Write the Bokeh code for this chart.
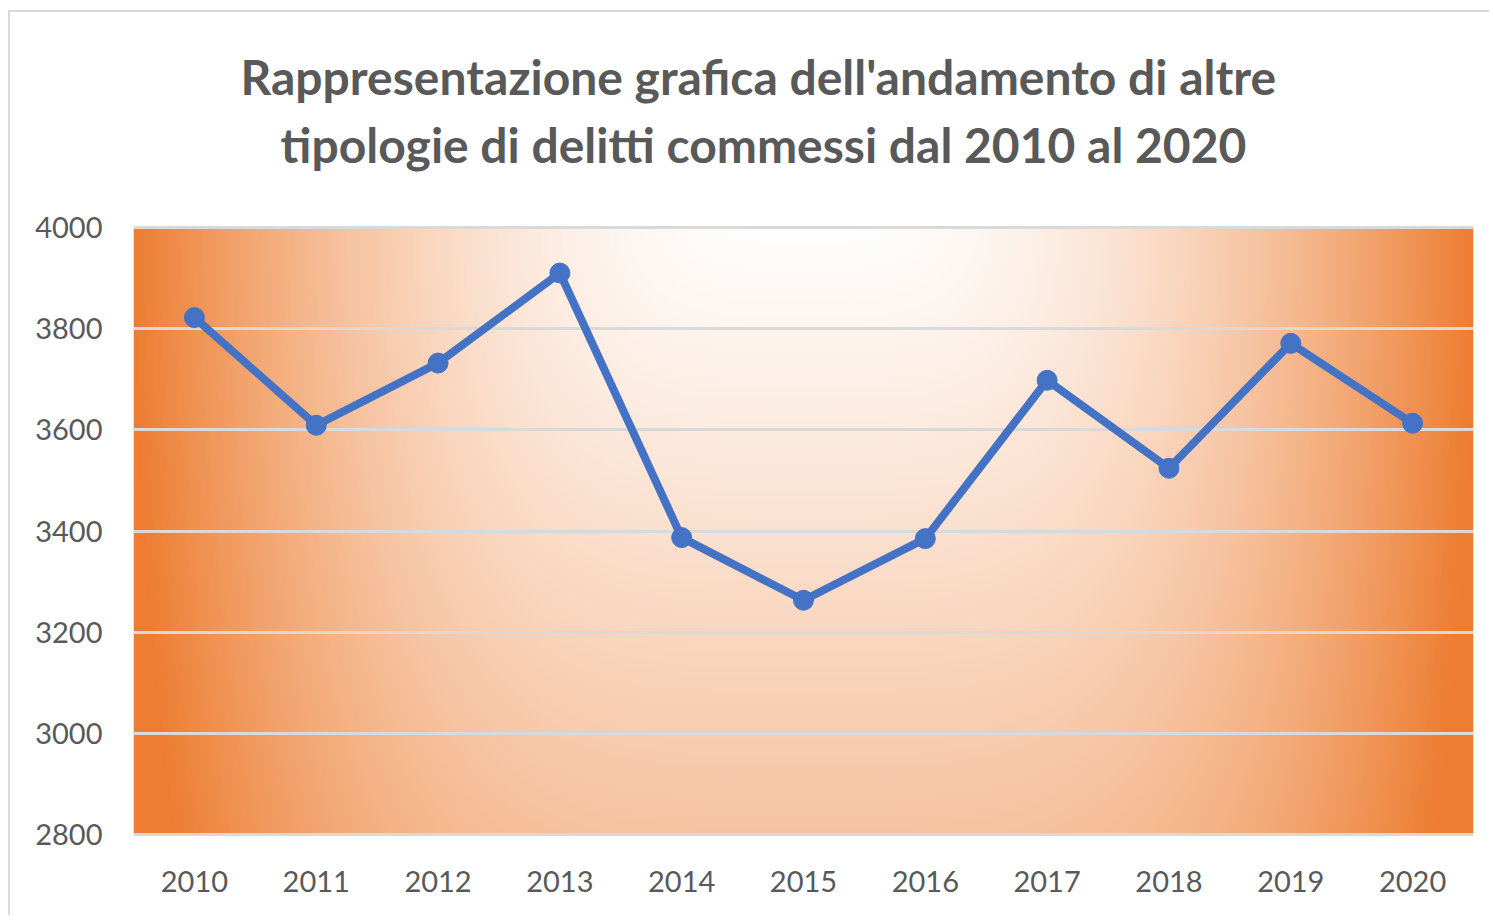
import numpy as np
from bokeh.plotting import figure
from bokeh.models import Range1d, FixedTicker, Title
from bokeh.embed import file_html
from bokeh.resources import INLINE

# ---- data ----
years = [2010, 2011, 2012, 2013, 2014, 2015, 2016, 2017, 2018, 2019, 2020]
values = [3822, 3609, 3732, 3910, 3387, 3263, 3385, 3698, 3524, 3771, 3613]
y_ticks = [2800, 3000, 3200, 3400, 3600, 3800, 4000]
title_line1 = "Rappresentazione grafica  dell'andamento di altre"
title_line2 = "tipologie di delitti commessi dal 2010 al 2020"

# ---- styles ----
TEXT_COLOR = "#595959"
GRID_COLOR = "#d9d9d9"
LINE_COLOR = "#4472C4"
ORANGE = np.array([237, 125, 49], dtype=float)
WHITE = np.array([255, 255, 255], dtype=float)

x0, x1 = years[0] - 0.5, years[-1] + 0.5
y0, y1 = y_ticks[0], y_ticks[-1]

p = figure(width=1481, height=905, output_backend="svg", toolbar_location=None,
           x_range=Range1d(x0, x1), y_range=Range1d(y0 - 4, y1 + 4),
           min_border_left=123, min_border_right=18,
           min_border_top=213, min_border_bottom=81)
p.outline_line_color = None
p.background_fill_color = "white"
p.border_fill_color = "white"
p.styles = {"border-top": "2px solid #d9d9d9", "border-left": "2px solid #d9d9d9",
            "margin-left": "8px", "margin-top": "10px"}

# radial gradient background of the plot area (style only)
W, H = 670, 304
xx = (np.arange(W) + 0.5) / W          # 0..1 left->right
yy = (np.arange(H) + 0.5) / H          # 0..1 bottom->top
X, Y = np.meshgrid(xx, yy)
tx = ((X - 0.5) * 2.0) ** 2
ty = (1.0 - Y) * 607 / 1320.0
t = np.clip(np.sqrt(tx ** 2 + ty ** 2), 0, 1)
rgb = WHITE[None, None, :] * (1 - t[..., None]) + ORANGE[None, None, :] * t[..., None]
img = np.empty((H, W), dtype=np.uint32)
view = img.view(dtype=np.uint8).reshape((H, W, 4))
view[..., 0] = rgb[..., 0].astype(np.uint8)
view[..., 1] = rgb[..., 1].astype(np.uint8)
view[..., 2] = rgb[..., 2].astype(np.uint8)
view[..., 3] = 255
bg = p.image_rgba(image=[img], x=x0, y=y0, dw=x1 - x0, dh=y1 - y0)
bg.level = "image"

# grid
p.xgrid.grid_line_color = None
p.ygrid.ticker = FixedTicker(ticks=y_ticks)
p.ygrid.grid_line_color = GRID_COLOR
p.ygrid.grid_line_width = 3

# data
p.line(years, values, line_color=LINE_COLOR, line_width=8, line_join="round")
p.scatter(years, values, size=20, fill_color=LINE_COLOR, line_color=LINE_COLOR)

# axes
p.xaxis.ticker = FixedTicker(ticks=years)
p.yaxis.ticker = FixedTicker(ticks=y_ticks)
for ax in (p.xaxis[0], p.yaxis[0]):
    ax.axis_line_color = None
    ax.major_tick_line_color = None
    ax.minor_tick_line_color = None
    ax.major_tick_out = 0
    ax.major_tick_in = 0
    ax.major_label_text_font = "Lato"
    ax.major_label_text_font_size = "29px"
    ax.major_label_text_color = TEXT_COLOR
p.yaxis.major_label_standoff = 31
p.xaxis.major_label_standoff = 34

# titles: spacer first (closest to plot), then line 2, then line 1
p.add_layout(Title(text=" ", standoff=10, text_font="Lato", text_font_size="30px"), "above")
p.add_layout(Title(text=title_line2, align="left", offset=147, standoff=9,
                   text_font="Lato", text_font_size="48px", text_font_style="bold",
                   text_color=TEXT_COLOR), "above")
p.add_layout(Title(text=title_line1, align="left", offset=107, standoff=9,
                   text_font="Lato", text_font_size="48px", text_font_style="bold",
                   text_color=TEXT_COLOR), "above")

open("out.html", "w").write(file_html(p, INLINE))
